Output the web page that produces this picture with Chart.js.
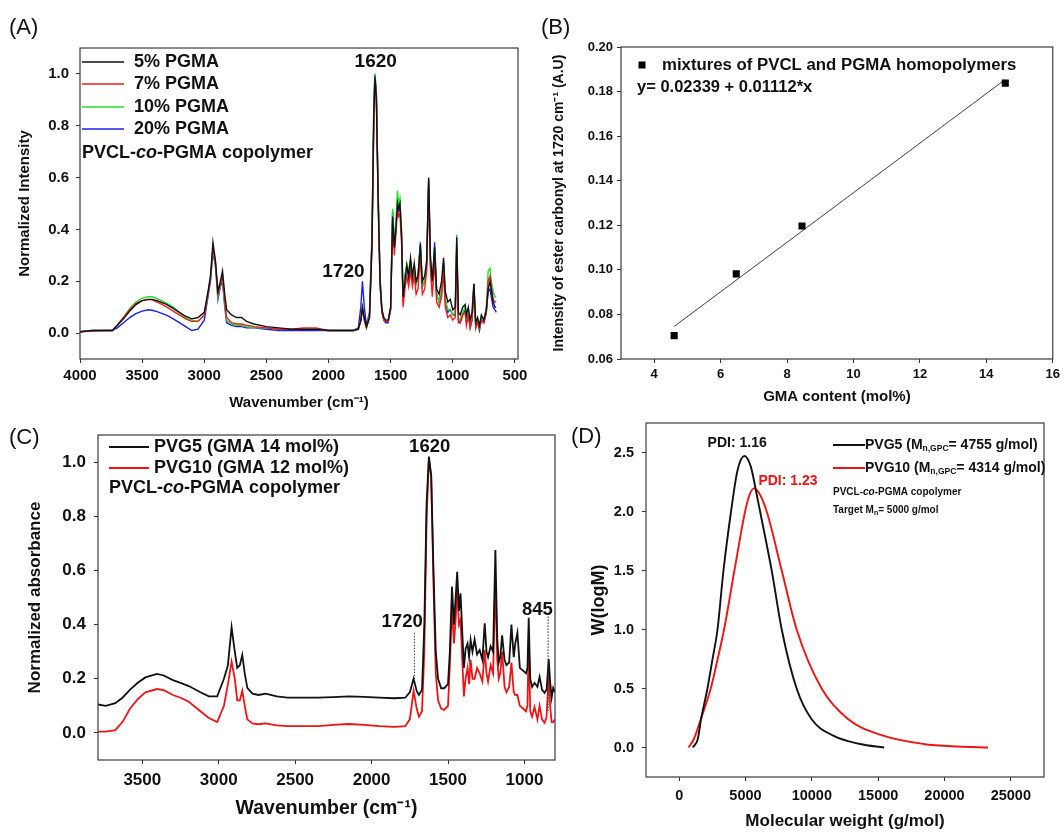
<!DOCTYPE html>
<html>
<head>
<meta charset="utf-8">
<script src="https://cdn.jsdelivr.net/npm/chart.js@4.4.1/dist/chart.umd.min.js"></script>
<style>
  body { margin: 0; background: #fff; }
  #wrap { position: relative; width: 1064px; height: 832px; overflow: hidden; background: #fff; }
  canvas { position: absolute; }
</style>
</head>
<body>
<div id="wrap">
  <canvas id="chartA" width="532" height="420" style="left:0;top:0"></canvas>
  <canvas id="chartB" width="532" height="420" style="left:532px;top:0"></canvas>
  <canvas id="chartC" width="560" height="432" style="left:0;top:400px"></canvas>
  <canvas id="chartD" width="504" height="432" style="left:560px;top:400px"></canvas>
</div>
<script>
// ---- (A) FTIR spectra, PVCL-co-PGMA with different PGMA feed ----
var wnA = [
  4000, 3900, 3800, 3740, 3700, 3650, 3600, 3550, 3500, 3450,
  3420, 3380, 3300, 3250, 3200, 3150, 3100, 3050, 3000, 2970,
  2950, 2930, 2910, 2890, 2870, 2853, 2835, 2820, 2780, 2740,
  2700, 2660, 2600, 2500, 2400, 2300, 2200, 2100, 2000, 1900,
  1800, 1760, 1740, 1727, 1712, 1695, 1670, 1650, 1635, 1626,
  1615, 1600, 1585, 1570, 1555, 1540, 1520, 1500, 1484, 1470,
  1458, 1445, 1436, 1425, 1412, 1400, 1385, 1370, 1355, 1340,
  1325, 1310, 1295, 1280, 1261, 1245, 1226, 1210, 1194, 1180,
  1165, 1146, 1130, 1110, 1090, 1074, 1060, 1040, 1020, 1000,
  980, 968, 955, 940, 920, 900, 890, 875, 860, 845,
  830, 815, 800, 785, 770, 750, 730, 715, 700, 690,
  675, 660, 650
];
var pgma5 = [
  0.005, 0.01, 0.01, 0.01, 0.03, 0.055, 0.085, 0.11, 0.125, 0.13,
  0.13, 0.125, 0.11, 0.095, 0.08, 0.065, 0.055, 0.06, 0.08, 0.16,
  0.22, 0.35, 0.28, 0.16, 0.2, 0.24, 0.15, 0.09, 0.07, 0.06,
  0.06, 0.045, 0.035, 0.025, 0.02, 0.015, 0.015, 0.015, 0.01, 0.01,
  0.01, 0.015, 0.05, 0.1, 0.06, 0.025, 0.06, 0.35, 0.85, 0.99,
  0.9, 0.5, 0.2, 0.09, 0.06, 0.05, 0.05, 0.1, 0.45, 0.33,
  0.4, 0.5, 0.48, 0.5, 0.38, 0.14, 0.2, 0.26, 0.22, 0.29,
  0.22, 0.27, 0.2, 0.22, 0.34, 0.2, 0.22, 0.28, 0.6, 0.3,
  0.2, 0.33, 0.17, 0.15, 0.2, 0.29, 0.16, 0.12, 0.13, 0.09,
  0.1, 0.37, 0.08, 0.07, 0.1, 0.11, 0.07, 0.1, 0.05, 0.08,
  0.19, 0.04, 0.06, 0.03, 0.07, 0.05, 0.09, 0.17, 0.2, 0.17,
  0.12, 0.1, 0.1
];
var pgma7 = [
  0.005, 0.008, 0.01, 0.01, 0.03, 0.06, 0.09, 0.115, 0.125, 0.13,
  0.128, 0.12, 0.1, 0.085, 0.07, 0.055, 0.045, 0.045, 0.07, 0.15,
  0.21, 0.33, 0.27, 0.15, 0.19, 0.22, 0.12, 0.06, 0.04, 0.035,
  0.035, 0.03, 0.025, 0.02, 0.015, 0.015, 0.02, 0.02, 0.01, 0.01,
  0.01, 0.015, 0.045, 0.09, 0.05, 0.02, 0.06, 0.33, 0.82, 0.97,
  0.93, 0.5, 0.18, 0.08, 0.05, 0.045, 0.045, 0.09, 0.42, 0.3,
  0.38, 0.48, 0.45, 0.46, 0.35, 0.1, 0.17, 0.22, 0.18, 0.24,
  0.18, 0.22, 0.15, 0.17, 0.3, 0.15, 0.17, 0.24, 0.57, 0.25,
  0.14, 0.28, 0.12, 0.1, 0.14, 0.24, 0.1, 0.06, 0.07, 0.05,
  0.06, 0.33, 0.04, 0.04, 0.07, 0.08, 0.03, 0.07, 0.02, 0.05,
  0.16, 0.02, 0.04, 0.02, 0.05, 0.04, 0.08, 0.2, 0.22, 0.18,
  0.13, 0.12, 0.12
];
var pgma10 = [
  0.005, 0.01, 0.01, 0.01, 0.03, 0.06, 0.095, 0.12, 0.135, 0.14,
  0.14, 0.133, 0.115, 0.1, 0.08, 0.06, 0.05, 0.045, 0.07, 0.15,
  0.21, 0.32, 0.27, 0.14, 0.19, 0.21, 0.11, 0.05, 0.035, 0.03,
  0.03, 0.025, 0.02, 0.02, 0.015, 0.015, 0.015, 0.015, 0.01, 0.01,
  0.01, 0.015, 0.05, 0.1, 0.05, 0.02, 0.07, 0.36, 0.87, 1.0,
  0.92, 0.55, 0.22, 0.09, 0.055, 0.045, 0.045, 0.1, 0.48, 0.35,
  0.42, 0.55, 0.5, 0.52, 0.4, 0.13, 0.22, 0.27, 0.24, 0.28,
  0.21, 0.25, 0.19, 0.21, 0.34, 0.18, 0.2, 0.27, 0.59, 0.28,
  0.18, 0.32, 0.15, 0.12, 0.17, 0.27, 0.13, 0.09, 0.09, 0.07,
  0.08, 0.38, 0.06, 0.05, 0.08, 0.1, 0.05, 0.08, 0.03, 0.06,
  0.18, 0.02, 0.05, 0.02, 0.06, 0.05, 0.1, 0.24, 0.25, 0.2,
  0.16, 0.14, 0.14
];
var pgma20 = [
  0.005, 0.01, 0.01, 0.01, 0.02, 0.04, 0.06, 0.075, 0.085, 0.09,
  0.088, 0.083, 0.068, 0.055, 0.04, 0.025, 0.01, 0.015, 0.05, 0.14,
  0.2, 0.31, 0.26, 0.13, 0.18, 0.2, 0.1, 0.04, 0.03, 0.025,
  0.025, 0.02, 0.02, 0.015, 0.01, 0.01, 0.01, 0.01, 0.01, 0.01,
  0.01, 0.02, 0.1, 0.2, 0.1, 0.03, 0.08, 0.38, 0.9, 1.0,
  0.92, 0.52, 0.2, 0.08, 0.05, 0.04, 0.04, 0.09, 0.47, 0.34,
  0.4, 0.52, 0.47, 0.49, 0.37, 0.12, 0.22, 0.26, 0.21, 0.28,
  0.2, 0.25, 0.19, 0.21, 0.35, 0.18, 0.2, 0.26, 0.59, 0.27,
  0.17, 0.35, 0.15, 0.12, 0.16, 0.27, 0.12, 0.08, 0.09, 0.07,
  0.07, 0.34, 0.05, 0.04, 0.07, 0.09, 0.04, 0.07, 0.02, 0.05,
  0.19, 0.03, 0.04, 0.01, 0.05, 0.04, 0.08, 0.16, 0.17, 0.14,
  0.1, 0.09, 0.08
];
var ticksAx = [500, 1000, 1500, 2000, 2500, 3000, 3500, 4000];
var ticksAy = [0, 0.2, 0.4, 0.6, 0.8, 1.0];

// ---- (B) ester carbonyl intensity vs GMA content ----
var gmaContent = [4.6, 6.47, 8.45, 14.57];
var esterIntensity = [0.0705, 0.0982, 0.1197, 0.1838];
var fitX = [4.6, 14.55];
var fitY = [0.0746, 0.1852];
var ticksBx = [4, 6, 8, 10, 12, 14, 16];
var ticksBy = [0.06, 0.08, 0.10, 0.12, 0.14, 0.16, 0.18, 0.20];

// ---- (C) FTIR of PVG5 / PVG10 ----
var wnC = [
  3790, 3740, 3677, 3630, 3580, 3530, 3480, 3404, 3360, 3300,
  3250, 3196, 3120, 3065, 3010, 2966, 2940, 2916, 2895, 2879,
  2862, 2846, 2830, 2813, 2780, 2740, 2693, 2620, 2550, 2450,
  2350, 2250, 2150, 2050, 1950, 1850, 1780, 1750, 1725, 1705,
  1690, 1670, 1655, 1640, 1625, 1610, 1595, 1580, 1565, 1545,
  1525, 1500, 1488, 1474, 1461, 1450, 1440, 1428, 1418, 1405,
  1396, 1385, 1372, 1362, 1352, 1340, 1326, 1310, 1293, 1275,
  1260, 1248, 1238, 1221, 1205, 1190, 1178, 1168, 1158, 1146,
  1130, 1118, 1100, 1085, 1070, 1060, 1046, 1030, 1009, 990,
  980, 972, 962, 950, 934, 915, 901, 885, 868, 855,
  841, 832, 822, 812, 800
];
var pvg5 = [
  0.105, 0.1, 0.11, 0.13, 0.16, 0.185, 0.205, 0.218, 0.212, 0.195,
  0.185, 0.173, 0.15, 0.135, 0.135, 0.2, 0.25, 0.39, 0.3, 0.24,
  0.25, 0.288, 0.22, 0.166, 0.145, 0.14, 0.145, 0.135, 0.13, 0.13,
  0.13, 0.132, 0.135, 0.133, 0.13, 0.128, 0.13, 0.15, 0.2, 0.155,
  0.14, 0.16, 0.4, 0.85, 1.02, 0.95, 0.6, 0.3, 0.2, 0.165,
  0.165, 0.18, 0.3, 0.54, 0.4, 0.5, 0.595, 0.45, 0.515, 0.35,
  0.24, 0.31, 0.33, 0.28, 0.343, 0.3, 0.345, 0.29, 0.306, 0.27,
  0.405, 0.3, 0.28, 0.32, 0.3, 0.675, 0.35, 0.26, 0.28, 0.36,
  0.27, 0.25, 0.26, 0.4, 0.28, 0.33, 0.37, 0.24, 0.23, 0.22,
  0.24, 0.425, 0.2, 0.17, 0.185, 0.17, 0.207, 0.16, 0.148, 0.16,
  0.273, 0.19, 0.13, 0.166, 0.15
];
var pvg10 = [
  0.005, 0.005, 0.01, 0.04, 0.09, 0.125, 0.15, 0.162, 0.158, 0.14,
  0.13, 0.115, 0.08, 0.055, 0.04, 0.1, 0.18, 0.263, 0.2, 0.12,
  0.12, 0.156, 0.1, 0.05, 0.035, 0.032, 0.035, 0.028, 0.025, 0.025,
  0.025, 0.03, 0.033, 0.03, 0.025, 0.022, 0.025, 0.05, 0.155, 0.09,
  0.06, 0.08, 0.3, 0.8, 1.007, 0.95, 0.55, 0.22, 0.12, 0.09,
  0.085, 0.1, 0.25, 0.467, 0.33, 0.42, 0.528, 0.4, 0.417, 0.25,
  0.135, 0.2, 0.24, 0.18, 0.27, 0.2, 0.2, 0.24, 0.22, 0.19,
  0.306, 0.22, 0.19, 0.25, 0.22, 0.565, 0.27, 0.2, 0.22, 0.3,
  0.17, 0.15, 0.17, 0.26, 0.15, 0.14, 0.14, 0.1, 0.09, 0.08,
  0.1, 0.343, 0.08, 0.06, 0.096, 0.05, 0.1, 0.05, 0.037, 0.06,
  0.22, 0.1, 0.04, 0.04, 0.05
];
var ticksCx = [1000, 1500, 2000, 2500, 3000, 3500];
var ticksCy = [0, 0.2, 0.4, 0.6, 0.8, 1.0];

// ---- (D) GPC molecular weight distributions ----
var mwPVG5 = [1030, 1400, 1650, 2130, 2500, 2890, 3340, 3910, 4400, 4920, 5400, 5800, 6100, 6975, 7730, 8855, 9985, 11615, 13620, 15450];
var wPVG5 = [0, 0.07, 0.24, 0.5, 0.74, 1.0, 1.5, 2.0, 2.35, 2.47, 2.38, 2.17, 2.0, 1.5, 1.0, 0.5, 0.24, 0.1, 0.03, 0];
var mwPVG10 = [700, 1100, 1630, 2380, 2900, 3385, 4165, 4970, 5300, 5645, 6000, 6600, 7730, 8855, 10740, 12745, 15380, 18390, 21000, 23280];
var wPVG10 = [0, 0.07, 0.24, 0.5, 0.75, 1.0, 1.5, 2.0, 2.14, 2.196, 2.16, 2.0, 1.5, 1.0, 0.5, 0.24, 0.1, 0.03, 0.008, 0];
var ticksDx = [0, 5000, 10000, 15000, 20000, 25000];
var ticksDy = [0, 0.5, 1.0, 1.5, 2.0, 2.5];

var FF = '"Liberation Sans", Arial, sans-serif';
Chart.defaults.font.family = FF;
Chart.defaults.color = '#111';

function pts(xs, ys) {
  return xs.map(function (x, i) { return { x: x, y: ys[i] }; });
}
function f(size, style) { return (style || 'bold') + ' ' + size + 'px ' + FF; }

function txt(ctx, s, x, y, font, color, align) {
  ctx.font = font;
  ctx.fillStyle = color || '#111';
  ctx.textAlign = align || 'left';
  ctx.textBaseline = 'middle';
  ctx.fillText(s, x, y);
}
// parts: [text, font, yShift]
function rich(ctx, parts, x, y, color) {
  ctx.textAlign = 'left';
  ctx.textBaseline = 'middle';
  ctx.fillStyle = color || '#111';
  parts.forEach(function (p) {
    ctx.font = p[1];
    ctx.fillText(p[0], x, y + (p[2] || 0));
    x += ctx.measureText(p[0]).width;
  });
}
function seg(ctx, x1, y1, x2, y2, color, w, dash) {
  ctx.save();
  ctx.strokeStyle = color;
  ctx.lineWidth = w;
  ctx.setLineDash(dash || []);
  ctx.beginPath();
  ctx.moveTo(x1, y1);
  ctx.lineTo(x2, y2);
  ctx.stroke();
  ctx.restore();
}

function useTicks(values) {
  return function (scale) {
    scale.ticks = values.map(function (v) { return { value: v }; });
  };
}

var tickGrid = { display: true, drawOnChartArea: false, drawTicks: true, tickLength: 4, tickColor: '#333', tickWidth: 1 };

function xAxis(o) {
  return {
    type: 'linear', min: o.min, max: o.max, reverse: !!o.reverse,
    afterFit: function (s) { s.height = o.h; },
    afterBuildTicks: useTicks(o.ticks),
    grid: tickGrid,
    border: { display: false },
    ticks: { padding: o.pad, autoSkip: false, maxRotation: 0,
      font: { size: o.size, weight: 'bold' }, color: '#111',
      callback: function (v) { return String(v); } },
    title: { display: true, text: o.title, color: '#111', font: { size: o.tsize, weight: 'bold' },
      padding: { top: 0, bottom: o.tpad } }
  };
}
function yAxis(o) {
  return {
    type: 'linear', min: o.min, max: o.max,
    afterFit: function (s) { s.width = o.w; },
    afterBuildTicks: useTicks(o.ticks),
    grid: tickGrid,
    border: { display: false },
    ticks: { padding: o.pad, autoSkip: false,
      font: { size: o.size, weight: 'bold' }, color: '#111',
      callback: function (v) { return v.toFixed(o.dec); } },
    title: { display: true, text: o.title, color: '#111', font: { size: o.tsize, weight: 'bold' },
      padding: { top: o.tpad, bottom: 0 } }
  };
}

// frame around the plot area, then panel texts (page coords) and data-anchored notes
function panelPlugin(id, ox, oy, pageDraw, dataDraw) {
  return {
    id: id,
    afterDraw: function (chart) {
      var ca = chart.chartArea, ctx = chart.ctx;
      ctx.save();
      ctx.strokeStyle = '#3a3a3a';
      ctx.lineWidth = 1.2;
      ctx.strokeRect(ca.left, ca.top, ca.right - ca.left, ca.bottom - ca.top);
      ctx.translate(-ox, -oy);
      pageDraw(ctx, chart);
      ctx.restore();
      if (dataDraw) {
        ctx.save();
        dataDraw(ctx, chart.scales.x, chart.scales.y);
        ctx.restore();
      }
    }
  };
}

function spec(label, xs, ys, color, w) {
  return { label: label, data: pts(xs, ys), borderColor: color, backgroundColor: color,
    borderWidth: w, pointRadius: 0, tension: 0, fill: false };
}

function opts(pad, x, y) {
  return {
    responsive: false, animation: false, devicePixelRatio: 1,
    layout: { padding: pad },
    plugins: { legend: { display: false }, tooltip: { enabled: false } },
    scales: { x: x, y: y }
  };
}

// ================= (A) =================
new Chart(document.getElementById('chartA'), {
  type: 'line',
  data: { datasets: [
    spec('5% PGMA', wnA, pgma5, '#111111', 1.4),
    spec('7% PGMA', wnA, pgma7, '#f01c1c', 1.4),
    spec('10% PGMA', wnA, pgma10, '#25e025', 1.4),
    spec('20% PGMA', wnA, pgma20, '#1c1cf2', 1.4)
  ] },
  options: opts({ left: 0, top: 48, right: 14, bottom: 0 },
    xAxis({ min: 475, max: 4000, reverse: true, ticks: ticksAx, h: 61, pad: 4, size: 15,
      title: 'Wavenumber (cm\u207B\u00B9)', tsize: 15, tpad: 8 }),
    yAxis({ min: -0.1, max: 1.1, ticks: ticksAy, w: 80, pad: 7, size: 15, dec: 1,
      title: 'Normalized Intensity', tsize: 15, tpad: 16 })),
  plugins: [panelPlugin('panelA', 0, 0, function (ctx, chart) {
    txt(ctx, '(A)', 9, 28, f(22, 'normal'));
    var rows = [62, 84, 107, 129];
    chart.data.datasets.forEach(function (ds, i) {
      seg(ctx, 82, rows[i], 124, rows[i], ds.borderColor, 1.6);
      txt(ctx, ds.label, 134, rows[i], f(18));
    });
    rich(ctx, [['PVCL-', f(18)], ['co', f(18, 'italic bold')], ['-PGMA copolymer', f(18)]], 82, 153);
  }, function (ctx, x, y) {
    txt(ctx, '1620', x.getPixelForValue(1620), y.getPixelForValue(1.045), f(19), '#111', 'center');
    txt(ctx, '1720', x.getPixelForValue(1880), y.getPixelForValue(0.236), f(19), '#111', 'center');
  })]
});

// ================= (B) =================
new Chart(document.getElementById('chartB'), {
  type: 'line',
  data: { datasets: [
    { label: 'mixtures of PVCL and PGMA homopolymers', data: pts(gmaContent, esterIntensity), showLine: false,
      pointStyle: 'rect', pointRadius: 5, backgroundColor: '#000', borderColor: '#000', borderWidth: 0 },
    { label: 'fit', data: pts(fitX, fitY), borderColor: '#2a2a2a', borderWidth: 0.9, pointRadius: 0, tension: 0 }
  ] },
  options: opts({ left: 0, top: 47, right: 2, bottom: 0 },
    xAxis({ min: 3, max: 16, ticks: ticksBx, h: 61, pad: 4, size: 13,
      title: 'GMA content (mol%)', tsize: 15, tpad: 14 }),
    yAxis({ min: 0.06, max: 0.20, ticks: ticksBy, w: 89, pad: 4, size: 13, dec: 2,
      title: 'Intensity of ester carbonyl at 1720 cm\u207B\u00B9 (A.U)', tsize: 14, tpad: 19 })),
  plugins: [panelPlugin('panelB', 532, 0, function (ctx) {
    txt(ctx, '(B)', 541, 28, f(22, 'normal'));
    ctx.fillStyle = '#000';
    ctx.fillRect(638.5, 61.5, 7, 7);
    txt(ctx, 'mixtures of PVCL and PGMA homopolymers', 662, 65, f(16.8));
    txt(ctx, 'y= 0.02339 + 0.01112*x', 637, 87, f(16.5));
  })]
});

// ================= (C) =================
new Chart(document.getElementById('chartC'), {
  type: 'line',
  data: { datasets: [
    spec('PVG5 (GMA 14 mol%)', wnC, pvg5, '#111111', 1.8),
    spec('PVG10 (GMA 12 mol%)', wnC, pvg10, '#ec1414', 1.8)
  ] },
  options: opts({ left: 0, top: 35, right: 5, bottom: 0 },
    xAxis({ min: 800, max: 3790, reverse: true, ticks: ticksCx, h: 72, pad: 6, size: 17,
      title: 'Wavenumber (cm\u207B\u00B9)', tsize: 19.5, tpad: 12 }),
    yAxis({ min: -0.1, max: 1.1, ticks: ticksCy, w: 98, pad: 8, size: 17, dec: 1,
      title: 'Normalized absorbance', tsize: 17, tpad: 25 })),
  plugins: [panelPlugin('panelC', 0, 400, function (ctx, chart) {
    txt(ctx, '(C)', 9, 438, f(22, 'normal'));
    var rows = [447, 468];
    chart.data.datasets.forEach(function (ds, i) {
      seg(ctx, 109, rows[i], 149, rows[i], ds.borderColor, 1.8);
      txt(ctx, ds.label, 154, rows[i], f(18));
    });
    rich(ctx, [['PVCL-', f(18)], ['co', f(18, 'italic bold')], ['-PGMA copolymer', f(18)]], 109, 488);
  }, function (ctx, x, y) {
    txt(ctx, '1620', x.getPixelForValue(1620), y.getPixelForValue(1.055), f(18.5), '#111', 'center');
    txt(ctx, '1720', x.getPixelForValue(1800), y.getPixelForValue(0.41), f(18.5), '#111', 'center');
    txt(ctx, '845', x.getPixelForValue(915), y.getPixelForValue(0.454), f(18.5), '#111', 'center');
    seg(ctx, x.getPixelForValue(1720), y.getPixelForValue(0.37), x.getPixelForValue(1720), y.getPixelForValue(0.19), '#333', 1, [1.5, 1.5]);
    seg(ctx, x.getPixelForValue(845), y.getPixelForValue(0.43), x.getPixelForValue(845), y.getPixelForValue(0.075), '#333', 1, [1.5, 1.5]);
  })]
});

// ================= (D) =================
function gpc(label, xs, ys, color) {
  return { label: label, data: pts(xs, ys), borderColor: color, borderWidth: 1.9, pointRadius: 0,
    tension: 0.4, cubicInterpolationMode: 'monotone', fill: false };
}
new Chart(document.getElementById('chartD'), {
  type: 'line',
  data: { datasets: [
    gpc('PVG5', mwPVG5, wPVG5, '#111111'),
    gpc('PVG10', mwPVG10, wPVG10, '#ec1414')
  ] },
  options: opts({ left: 0, top: 23, right: 20, bottom: 0 },
    xAxis({ min: -2500, max: 27500, ticks: ticksDx, h: 55, pad: 6, size: 14.5,
      title: 'Molecular weight (g/mol)', tsize: 17, tpad: 0 }),
    yAxis({ min: -0.25, max: 2.75, ticks: ticksDy, w: 86, pad: 8, size: 14.5, dec: 1,
      title: 'W(logM)', tsize: 18, tpad: 28 })),
  plugins: [panelPlugin('panelD', 560, 400, function (ctx, chart) {
    txt(ctx, '(D)', 571, 437, f(22, 'normal'));
    var ds = chart.data.datasets;
    seg(ctx, 833, 445, 865, 445, ds[0].borderColor, 2);
    seg(ctx, 833, 468, 865, 468, ds[1].borderColor, 2);
    rich(ctx, [['PVG5 (M', f(14)], ['n,GPC', f(8.5), 4], ['= 4755 g/mol)', f(14)]], 865, 445);
    rich(ctx, [['PVG10 (M', f(14)], ['n,GPC', f(8.5), 4], ['= 4314 g/mol)', f(14)]], 865, 468);
    rich(ctx, [['PVCL-', f(10)], ['co', f(10, 'italic bold')], ['-PGMA copolymer', f(10)]], 833, 492);
    rich(ctx, [['Target M', f(10)], ['n', f(7), 3], ['= 5000 g/mol', f(10)]], 833, 510);
  }, function (ctx, x, y) {
    txt(ctx, 'PDI: 1.16', x.getPixelForValue(4370), y.getPixelForValue(2.58), f(14), '#111', 'center');
    txt(ctx, 'PDI: 1.23', x.getPixelForValue(8200), y.getPixelForValue(2.255), f(14), '#ec1414', 'center');
  })]
});
</script>
</body>
</html>
